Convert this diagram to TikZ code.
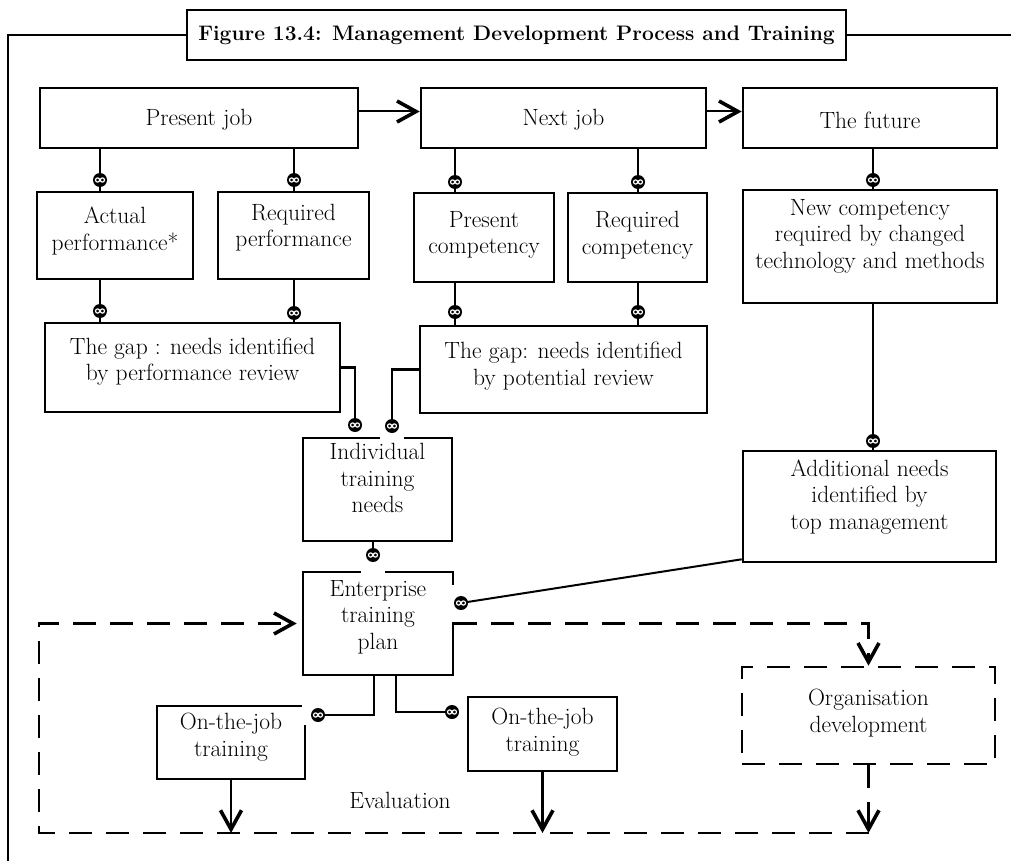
\documentclass[tikz,border=0pt]{standalone}
\usetikzlibrary{arrows.meta}
\tikzset{
  ln/.style={line width=2.6pt},
  thinln/.style={line width=2pt},
  box/.style={draw, rectangle, line width=2.6pt, inner sep=0pt},
  dbox/.style={box, dash pattern=on 23pt off 14pt},
  txt/.style={font=\fontsize{23.5}{26.5}\selectfont, align=center, inner sep=0pt},
  ttl/.style={font=\fontsize{21}{25}\selectfont\bfseries},
  knob/.style={circle, fill=black, inner sep=0pt, minimum size=14pt,
    path picture={\draw[white, line width=1.2pt]
      ([xshift=-2.4pt]path picture bounding box.center) circle (2.1pt)
      ([xshift=2.4pt]path picture bounding box.center) circle (2.1pt);}},
  dl/.style={line width=2.6pt, dash pattern=on 23pt off 14pt},
  chev/.tip={Straight Barb[length=19pt,width=21pt,line width=3.6pt]},
}
\begin{document}
\begin{tikzpicture}[x=1pt,y=-1pt]
\useasboundingbox (0,0) rectangle (1011,861);
% frame and title
\node[box, ttl, minimum width=659pt, minimum height=50pt] (title) at (516.5,35) {Figure 13.4: Management Development Process and Training};
\coordinate (fTL) at (8,35);
\coordinate (fBL) at (8,861);
\coordinate (fTR) at (1011,35);
\draw[ln] (title.west) -- (fTL) -- (fBL);
\draw[ln] (title.east) -- (fTR);
% boxes
\node[box, minimum width=318pt, minimum height=60pt] (pj) at (199,118) {};
\node[box, minimum width=285pt, minimum height=60pt] (nj) at (563.5,118) {};
\node[box, minimum width=254pt, minimum height=60pt] (fut) at (870,118) {};
\node[box, minimum width=156pt, minimum height=87pt] (act) at (115,235.5) {};
\node[box, minimum width=151pt, minimum height=87pt] (reqp) at (293.5,235.5) {};
\node[box, minimum width=140pt, minimum height=89pt] (pc) at (484,237.5) {};
\node[box, minimum width=139pt, minimum height=89pt] (rc) at (637.5,237.5) {};
\node[box, minimum width=254pt, minimum height=113pt] (nc) at (870,246.5) {};
\node[box, minimum width=295pt, minimum height=89pt] (gap1) at (192.5,367.5) {};
\node[box, minimum width=287pt, minimum height=87pt] (gap2) at (563.5,369.5) {};
\node[box, minimum width=149pt, minimum height=103pt] (ind) at (377.5,489.5) {};
\node[box, minimum width=253pt, minimum height=111pt] (add) at (869.5,506.5) {};
\node[box, minimum width=150pt, minimum height=103pt] (ent) at (378,623.5) {};
\node[box, minimum width=148pt, minimum height=73pt] (oj1) at (231,742.5) {};
\node[box, minimum width=149pt, minimum height=74pt] (oj2) at (542.5,734) {};
\node[dbox, minimum width=253pt, minimum height=97pt] (org) at (868.5,715.5) {};
% texts
\node[txt] (tpj) at ([yshift=-2pt]pj.center) {Present job};
\node[txt] (tnj) at ([yshift=-2pt]nj.center) {Next job};
\node[txt] (tfut) at ([yshift=-2pt]fut.center) {The future};
\node[txt] (tact) at ([yshift=4.5pt]act.center) {Actual\\performance*};
\node[txt] (treqp) at ([yshift=8pt]reqp.center) {Required\\performance};
\node[txt] (tpc) at ([yshift=2.5pt]pc.center) {Present\\competency};
\node[txt] (trc) at ([yshift=2.5pt]rc.center) {Required\\competency};
\node[txt] (tnc) at ([yshift=10.5pt]nc.center) {New competency\\required by changed\\technology and methods};
\node[txt] (tgap1) at ([yshift=6pt]gap1.center) {The gap : needs identified\\by performance review};
\node[txt] (tgap2) at ([yshift=3.5pt]gap2.center) {The gap: needs identified\\by potential review};
\node[txt] (tind) at ([yshift=11.5pt]ind.center) {Individual\\training\\needs};
\node[txt] (tadd) at ([yshift=9.5pt]add.center) {Additional needs\\identified by\\top management};
\node[txt] (tent) at ([yshift=6.5pt]ent.center) {Enterprise\\training\\plan};
\node[txt] (toj1) at ([yshift=5.5pt]oj1.center) {On-the-job\\training};
\node[txt] (toj2) at ([yshift=2pt]oj2.center) {On-the-job\\training};
\node[txt] (torg) at ([yshift=2.5pt]org.center) {Organisation\\development};
\node[txt] (teval) at (400,800) {Evaluation};
% knob positions
\coordinate (k1) at (100,180);
\coordinate (k2) at (294,180);
\coordinate (k3) at (455,182);
\coordinate (k4) at (638,182);
\coordinate (k5) at (873,180);
\coordinate (k6) at (100,311);
\coordinate (k7) at (294,313);
\coordinate (k8) at (455,312);
\coordinate (k9) at (638,312);
\coordinate (k10) at (355,425);
\coordinate (k11) at (392,426);
\coordinate (k12) at (873,441);
\coordinate (k13) at (373,555);
\coordinate (k14) at (461,603);
\coordinate (k15) at (318,715);
\coordinate (k16) at (452,712);
% gaps in box edges beside some knobs
\fill[white] (k11) ++(-12,8) rectangle ++(24,8);
\fill[white] (k13) ++(-12,13) rectangle ++(24,8);
\fill[white] (k14) ++(-12,-18) rectangle ++(8,37);
\fill[white] (k15) ++(-16,-15) rectangle ++(8,25);
% connectors
\draw[thinln,-chev] ([yshift=6.5pt]pj.east) -- ([yshift=6.5pt]nj.west);
\draw[thinln,-chev] ([yshift=6.5pt]nj.east) -- ([yshift=6.5pt]fut.west);
\draw[ln] (pj.south -| k1) -- (act.north -| k1);
\draw[ln] (pj.south -| k2) -- (reqp.north -| k2);
\draw[ln] (nj.south -| k3) -- (pc.north -| k3);
\draw[ln] (nj.south -| k4) -- (rc.north -| k4);
\draw[ln] (fut.south -| k5) -- (nc.north -| k5);
\draw[ln] (act.south -| k6) -- (gap1.north -| k6);
\draw[ln] (reqp.south -| k7) -- (gap1.north -| k7);
\draw[ln] (pc.south -| k8) -- (gap2.north -| k8);
\draw[ln] (rc.south -| k9) -- (gap2.north -| k9);
\draw[ln] (gap1.east) -| (k10);
\draw[ln] (gap2.west) -| (k11);
\draw[ln] (nc.south -| k12) -- (add.north -| k12);
\draw[ln] (ind.south -| k13) -- (k13);
\draw[thinln] ([yshift=4pt]add.south west) -- (k14);
\draw[ln] ([xshift=-4pt]ent.south) |- (k15);
\draw[ln] ([xshift=18pt]ent.south) |- (k16);
% evaluation loop
\coordinate (cBL) at (39,833);
\draw[ln,-chev] (oj1.south) -- (oj1.south |- cBL);
\draw[ln,-chev] (oj2.south) -- (oj2.south |- cBL);
\draw[dl,-chev] (ent.east) -| (org.north);
\draw[dl,-chev] (org.south) -- (org.south |- cBL);
\draw[dl,-chev,shorten >=5pt] (org.south |- cBL) -- (cBL) -- (cBL |- ent.west) -- (ent.west);
% knobs
\foreach \k in {1,...,16} { \node[knob] (K\k) at (k\k) {}; }
\end{tikzpicture}
\end{document}
